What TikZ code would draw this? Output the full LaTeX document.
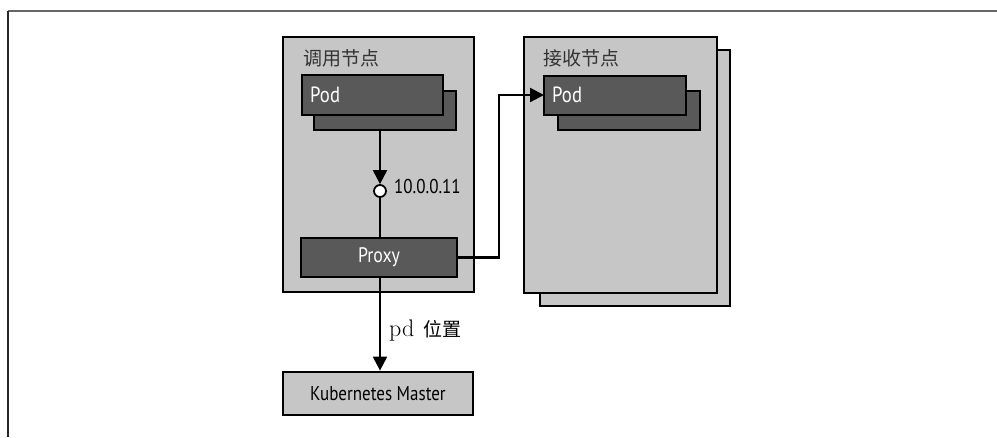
\documentclass[tikz,border=0pt]{standalone}
\usepackage{fontspec}
\setmainfont{PT Sans}[FakeStretch=0.85]
\newfontfamily\cjk{Noto Sans CJK SC}
\newfontfamily\lbl{Latin Modern Roman}
\usetikzlibrary{arrows.meta}
\definecolor{boxfill}{HTML}{C6C6C6}
\definecolor{podfill}{HTML}{595959}
\tikzset{
  x=1pt, y=-1pt,
  nodebox/.style={draw=black, line width=2.8pt, fill=boxfill},
  podbox/.style={draw=black, line width=2.8pt, fill=podfill},
  conn/.style={line width=2.2pt, -{Triangle[width=14pt,length=14pt]}},
  plain/.style={line width=2.2pt},
  title/.style={anchor=west, inner sep=0pt, font=\cjk\fontsize{19}{19}\selectfont, text=black!80},
  podtxt/.style={anchor=west, inner sep=0pt, text=white, font=\fontsize{22}{22}\selectfont},
}
\begin{document}
\begin{tikzpicture}
\useasboundingbox (0,0) rectangle (997,437);
% outer frame
\draw[line width=1.6pt, color=black!60] (8,11) -- (997,11);
\draw[line width=1.6pt, color=black!85] (8,11) -- (8,437);

% calling node
\draw[nodebox] (283,37) rectangle (474,292);
\node[title] (t1) at (303,58) {调用节点};
\draw[podbox] (314,91) rectangle (456,130);
\draw[podbox] (302,75) rectangle (443,115);
\node[podtxt] (pod1) at (310,95) {Pod};
\coordinate (pod1b) at (380,130);

% proxy
\node[podbox, minimum width=156pt, minimum height=39pt, inner sep=0pt, text=white, font=\fontsize{21}{21}\selectfont] (proxy) at (379,257.5) {Proxy};

% circle
\node[circle, draw=black, fill=white, line width=1.8pt, minimum size=12pt, inner sep=0pt] (ip) at (380,191) {};
\node[anchor=west, inner sep=0pt, font=\fontsize{20}{20}\selectfont] (iplbl) at (394,186) {10.0.0.11};
\draw[conn] (pod1b) -- (ip.north);
\draw[plain] (ip.south) -- (proxy.north -| ip.south);

% receiving node
\draw[nodebox] (540,50) rectangle (730,306);
\draw[nodebox] (524,37) rectangle (717,293);
\node[title] (t2) at (543,58) {接收节点};
\draw[podbox] (558,91) rectangle (700,130);
\draw[podbox] (544,76) rectangle (686,115);
\node[podtxt] (pod2) at (552,95) {Pod};
\coordinate (pod2l) at (544,95);
\coordinate (bend) at (499,257.5);

\draw[conn] (proxy.east) -- (bend) |- (pod2l);

% kubernetes master
\node[nodebox, minimum width=190pt, minimum height=43pt, inner sep=0pt, font=\fontsize{20}{20}\selectfont] (km) at (378,393.5) {Kubernetes Master};
\draw[conn] (proxy.south -| pod1b) -- (km.north -| pod1b);
\node[anchor=west, inner sep=0pt, font=\fontsize{19}{19}\selectfont] (plbl) at (389,331) {{\lbl\fontsize{24}{24}\selectfont pd}\hspace{0.5em}{\cjk 位置}};
\end{tikzpicture}
\end{document}
